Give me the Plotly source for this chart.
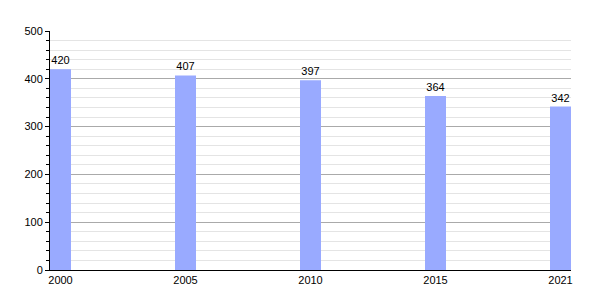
import plotly.graph_objects as go

years = ["2000", "2005", "2010", "2015", "2021"]
values = [420, 407, 397, 364, 342]

idx = list(range(len(years)))

fig = go.Figure(go.Bar(
    x=idx, y=values, width=0.168,
    marker=dict(color="#99aaff", line=dict(width=0)),
    text=[str(v) for v in values], textposition="outside",
    textfont=dict(family="Liberation Sans, Arial", size=11, color="#000"),
    cliponaxis=False,
))

fig.update_layout(
    width=600, height=300,
    margin=dict(l=50, r=29, t=31, b=30),
    paper_bgcolor="white", plot_bgcolor="white",
    showlegend=False,
    font=dict(family="Liberation Sans, Arial", size=11, color="#000"),
    xaxis=dict(
        range=[-0.084, 4.084], tickmode="array", tickvals=idx, ticktext=years,
        showgrid=False, zeroline=False, showline=True, linecolor="#000", linewidth=1,
        ticks="", ticklen=0, tickfont=dict(size=11),
    ),
    yaxis=dict(
        range=[0, 500], dtick=100, showgrid=True, gridcolor="#aaaaaa", gridwidth=1,
        zeroline=False, showline=True, linecolor="#000", linewidth=1,
        ticks="outside", ticklen=4, tickcolor="#000", tickfont=dict(size=11),
        minor=dict(dtick=20, showgrid=True, gridcolor="#e4e4e4", gridwidth=1,
                   ticks="outside", ticklen=3, tickcolor="#000"),
    ),
)

fig.write_html("out.html")
